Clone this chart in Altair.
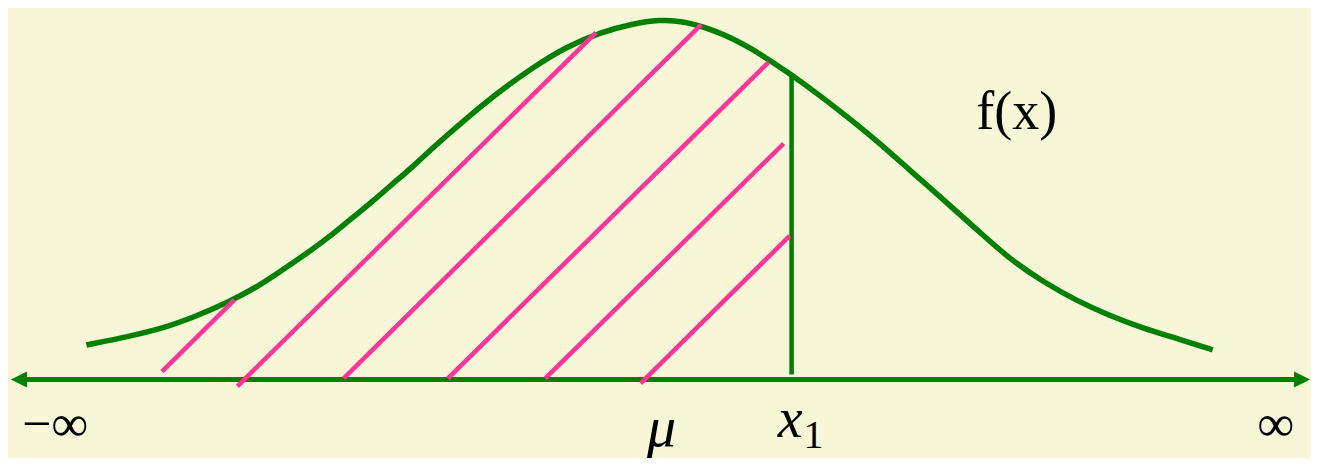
import altair as alt
import pandas as pd

BG = "#F7F7D7"
GREEN = "#008000"
PINK = "#FF3399"
FONT = "Liberation Serif"

# bell curve f(x) (drawing units, y grows downward)
curve_x = [83, 127, 160, 193, 227, 260, 290, 310, 330, 350, 370, 390, 410, 433, 467,
           500, 533, 567, 600, 633, 660, 683, 717, 750, 793, 820, 847, 880, 913,
           947, 980, 1013, 1047, 1080, 1113, 1147, 1180, 1217]
curve_y = [347, 338, 330, 318, 303, 285, 264, 250, 235, 218, 202, 184, 167, 145, 115,
           88, 64, 43, 29, 20, 16, 17, 27, 43, 72, 92, 113, 140, 170,
           200, 230, 260, 283, 302, 317, 330, 340, 352]

# hatch strokes under the curve up to x1
hatch_x1 = [159, 235, 342, 447, 545, 641]
hatch_y1 = [374, 389, 381, 381, 381, 386]
hatch_x2 = [232, 596, 702, 770, 785, 791]
hatch_y2 = [301, 29, 21, 59, 142, 236]

# number line
axis_x = [20, 1300]
axis_y = [382, 382]
arrow_x = [15, 1307]
arrow_y = [382, 382]

# vertical line at x1
x1_pos = [793]
x1_top = [72]
x1_bottom = [377]

X = lambda f: alt.X(f, type="quantitative", scale=alt.Scale(domain=[4, 1316]), axis=None)
Y = lambda f: alt.Y(f, type="quantitative", scale=alt.Scale(domain=[4, 462], reverse=True), axis=None)

curve_df = pd.DataFrame({"x": curve_x, "y": curve_y})
hatch_df = pd.DataFrame({"x": hatch_x1, "y": hatch_y1, "x2": hatch_x2, "y2": hatch_y2})
axis_df = pd.DataFrame({"x": [axis_x[0]], "x2": [axis_x[1]], "y": [axis_y[0]]})
vert_df = pd.DataFrame({"x": x1_pos, "y": x1_top, "y2": x1_bottom})

curve = alt.Chart(curve_df).mark_line(color=GREEN, strokeWidth=5.5, interpolate="basis").encode(
    x=X("x"), y=Y("y"))

axis_line = alt.Chart(axis_df).mark_rule(color=GREEN, strokeWidth=5).encode(
    x=X("x"), x2="x2", y=Y("y"))

left_arrow = alt.Chart(pd.DataFrame({"x": [arrow_x[0]], "y": [arrow_y[0]]})).mark_point(
    shape="M-1,0L1,-1L1,1Z", filled=True, size=256, color=GREEN, opacity=1).encode(x=X("x"), y=Y("y"))
right_arrow = alt.Chart(pd.DataFrame({"x": [arrow_x[1]], "y": [arrow_y[1]]})).mark_point(
    shape="M1,0L-1,-1L-1,1Z", filled=True, size=256, color=GREEN, opacity=1).encode(x=X("x"), y=Y("y"))

vert = alt.Chart(vert_df).mark_rule(color=GREEN, strokeWidth=4.5).encode(
    x=X("x"), y=Y("y"), y2="y2")

hatch = alt.Chart(hatch_df).mark_rule(color=PINK, strokeWidth=4.5).encode(
    x=X("x"), y=Y("y"), x2="x2", y2="y2")


def label(txt, x, y, size, style="normal", align="left"):
    return alt.Chart(pd.DataFrame({"x": [x], "y": [y], "t": [txt]})).mark_text(
        font=FONT, fontSize=size, fontStyle=style, align=align, baseline="alphabetic",
        color="black").encode(x=X("x"), y=Y("y"), text="t:N")


labels = [
    label("\u2212\u221e", 18, 445, 52),
    label("\u221e", 1262, 445, 52),
    label("\u03bc", 662, 450, 58, "italic", "center"),
    label("x", 779, 441, 56, "italic"),
    label("1", 805, 452, 40),
    label("f(x)", 979, 127, 54),
]

chart = alt.layer(curve, axis_line, left_arrow, right_arrow, vert, hatch, *labels).properties(
    width=1303, height=450, background=BG, padding=0, autosize="none"
).configure_view(stroke=None)

chart.save("out.html", embed_options={"renderer": "svg", "actions": False})
